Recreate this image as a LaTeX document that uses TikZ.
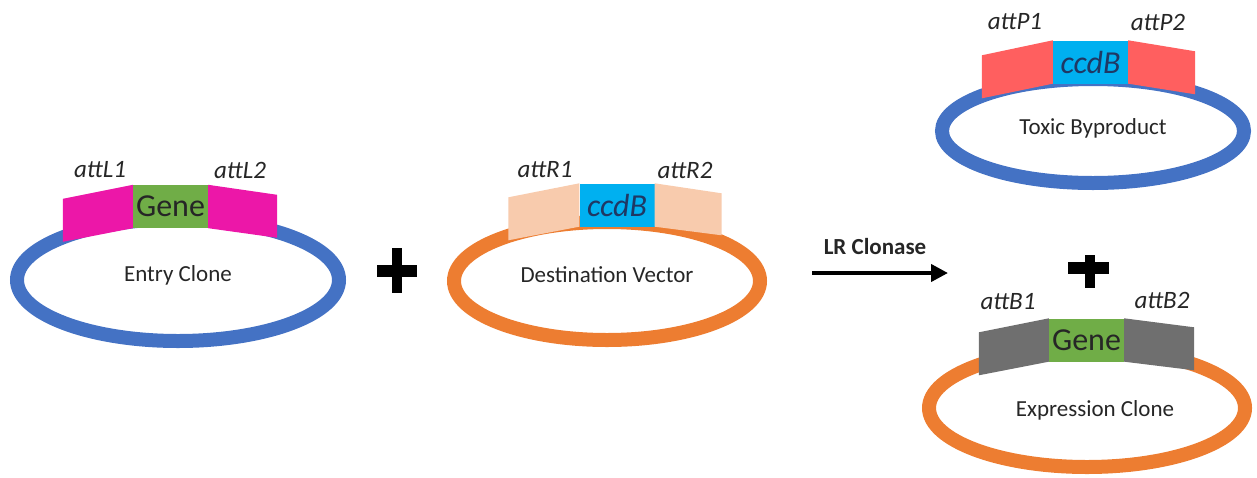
\documentclass[tikz,border=0pt]{standalone}
\usepackage{fontspec}
\setmainfont{Carlito}
\usetikzlibrary{arrows.meta}
\definecolor{ringblue}{HTML}{4472C4}
\definecolor{ringorange}{HTML}{ED7D31}
\definecolor{attpink}{HTML}{EC17A8}
\definecolor{attpeach}{HTML}{F8CBAD}
\definecolor{attred}{HTML}{FF5F5F}
\definecolor{attgray}{HTML}{6F6F6F}
\definecolor{genegreen}{HTML}{70AD47}
\definecolor{ccdbcyan}{HTML}{00B0F0}
\definecolor{ccdbtext}{HTML}{1F3864}
\definecolor{txt}{HTML}{262626}
\tikzset{
  ring/.style={line width=14pt},
  lbl/.style={text=txt, font=\fontsize{23}{27}\selectfont},
  attlbl/.style={text=txt, font=\fontsize{25}{29}\selectfont\itshape},
  insert/.style={inner sep=0pt, minimum width=75pt, minimum height=43pt, font=\fontsize{32}{36}\selectfont},
  plush/.style={line width=12pt, black},
  plusv/.style={line width=10pt, black},
}
\begin{document}
\begin{tikzpicture}[x=1pt, y=-1pt]
    \useasboundingbox (0,0) rectangle (1257,477);
    % Entry Clone
    \begin{scope}
        \draw[ring, ringblue] (178,280) ellipse [x radius=161, y radius=61];
        \node[insert, fill=genegreen, text=txt] (gene1) at (170.5,206.5) {Gene};
        \fill[attpink] (gene1.north west) -- ++(-70,14) -- ++(0,43) -- (gene1.south west) -- cycle;
        \fill[attpink] (gene1.north east) -- ++(69,10) -- ++(0,43) -- (gene1.south east) -- cycle;
        \node[attlbl] (attL1) at (100,170) {attL1};
        \node[attlbl] (attL2) at (240,170) {attL2};
        \node[lbl] (entry) at (178,275) {Entry Clone};
    \end{scope}

    % 1. plus
    \draw[plush] (377,270.5) -- (417,270.5);
    \draw[plusv] (397,248) -- (397,293);

    % Destination Vector
    \begin{scope}
        \draw[ring, ringorange] (607,281) ellipse [x radius=153, y radius=59];
        \node[insert, fill=ccdbcyan, text=ccdbtext, font=\fontsize{32}{36}\selectfont\itshape] (ccdb1) at (617,205) {ccdB};
        \fill[attpeach] (ccdb1.north west) -- ++(-71,14) -- ++(0,43) -- (ccdb1.south west) -- cycle;
        \fill[attpeach] (ccdb1.north east) -- ++(67,10) -- ++(0,42) -- (ccdb1.south east) -- cycle;
        \node[attlbl] (attR1) at (545,170) {attR1};
        \node[attlbl] (attR2) at (685,170) {attR2};
        \node[lbl] (dest) at (607,275) {Destination Vector};
    \end{scope}

    % LR Clonase
    \coordinate (lrS) at (812,273);
    \coordinate (lrE) at (948,273);
    \draw[-{Triangle[length=17pt,width=17pt]}, line width=4pt, black] (lrS) -- (lrE);
    \node[lbl, font=\fontsize{23}{27}\selectfont\bfseries] (lr) at (875,247) {LR Clonase};

    % Toxic Byproduct
    \begin{scope}
        \draw[ring, ringblue] (1093,131) ellipse [x radius=151, y radius=52];
        \node[insert, fill=ccdbcyan, text=ccdbtext, font=\fontsize{32}{36}\selectfont\itshape] (ccdb2) at (1090.5,62) {ccdB};
        \fill[attred] (ccdb2.north west) -- ++(-71,15) -- ++(0,43) -- (ccdb2.south west) -- cycle;
        \fill[attred] (ccdb2.north east) -- ++(67,11) -- ++(0,43) -- (ccdb2.south east) -- cycle;
        \node[attlbl] (attP1) at (1015,22) {attP1};
        \node[attlbl] (attP2) at (1158,22) {attP2};
        \node[lbl] (toxic) at (1093,128) {Toxic Byproduct};
    \end{scope}

    % 2. plus
    \draw[plush] (1068,268) -- (1109,268);
    \draw[plusv] (1090,255) -- (1090,288);

    % Expression Clone
    \begin{scope}
        \draw[ring, ringorange] (1087,408) ellipse [x radius=158, y radius=59];
        \node[insert, fill=genegreen, text=txt] (gene2) at (1086.5,340) {Gene};
        \fill[attgray] (gene2.north west) -- ++(-70,14) -- ++(0,43) -- (gene2.south west) -- cycle;
        \fill[attgray] (gene2.north east) -- ++(70,9) -- ++(0,43) -- (gene2.south east) -- cycle;
        \node[attlbl] (attB1) at (1008,302) {attB1};
        \node[attlbl] (attB2) at (1162,300) {attB2};
        \node[lbl] (expr) at (1095,410) {Expression Clone};
    \end{scope}
\end{tikzpicture}
\end{document}
